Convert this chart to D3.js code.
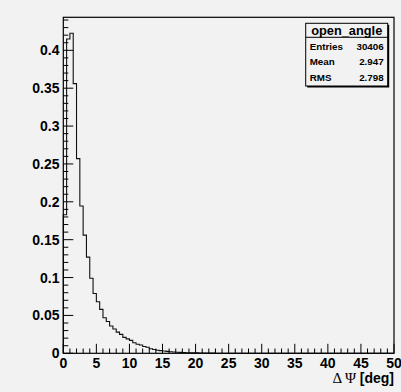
<!DOCTYPE html>
<html>
<head>
<meta charset="utf-8">
<script src="https://cdn.jsdelivr.net/npm/d3@7"></script>
<style>
  body { margin: 0; background: #f2f2f2; }
  svg { display: block; }
  text { font-family: "Liberation Sans", Arial, sans-serif; font-weight: bold; fill: #000; }
</style>
</head>
<body>
<div id="chart-area"></div>
<script>
// Histogram bins (0.5 deg wide)
const binWidth = 0.5;
const binValues = [
  0.183, 0.415, 0.4225, 0.356, 0.257, 0.1945, 0.156, 0.127, 0.099, 0.079,
  0.068, 0.058, 0.047, 0.042, 0.036, 0.032, 0.028, 0.025, 0.021, 0.019,
  0.017, 0.014, 0.012, 0.011, 0.009, 0.008, 0.006, 0.005, 0.004, 0.0035,
  0.003, 0.0025, 0.002, 0.0017, 0.0014, 0.0012, 0.001, 0.0008, 0.0007, 0.0006,
  0.0005, 0.0004, 0.0003, 0.0003, 0.0002, 0.0002, 0.0001, 0.0001, 0.0001, 0.0
];

// Axis ticks
const xTicks = [0, 5, 10, 15, 20, 25, 30, 35, 40, 45, 50];
const yTicks = [0, 0.05, 0.1, 0.15, 0.2, 0.25, 0.3, 0.35, 0.4];
const yTickLabels = ['0', '0.05', '0.1', '0.15', '0.2', '0.25', '0.3', '0.35', '0.4'];

// Stats box
const statsTitle = 'open_angle';
const statsNames = ['Entries', 'Mean', 'RMS'];
const statsValues = ['30406', '2.947', '2.798'];

const W = 401, H = 392;
const frame = { left: 63.3, right: 394, top: 17.3, bottom: 353.3 };

const svg = d3.select('#chart-area')
    .append('svg')
    .attr('width', W)
    .attr('height', H);

svg.append('rect')
    .attr('width', W).attr('height', H)
    .attr('fill', '#f2f2f2');

// Scales
const x = d3.scaleLinear()
    .domain([0, 50])
    .range([frame.left, frame.right]);

const y = d3.scaleLinear()
    .domain([0, 0.4436])
    .range([frame.bottom, frame.top]);

// Histogram as step line
const pts = [[0, 0]];
binValues.forEach((v, i) => {
    pts.push([i * binWidth, v]);
    pts.push([(i + 1) * binWidth, v]);
});
pts.push([binValues.length * binWidth, 0]);
pts.push([50, 0]);

const line = d3.line()
    .x((d) => x(d[0]))
    .y((d) => y(d[1]));

svg.append('path')
    .datum(pts)
    .attr('d', line)
    .attr('fill', 'none')
    .attr('stroke', '#111')
    .attr('stroke-width', 1.1);

// Frame
svg.append('rect')
    .attr('x', frame.left)
    .attr('y', frame.top)
    .attr('width', frame.right - frame.left)
    .attr('height', frame.bottom - frame.top)
    .attr('fill', 'none')
    .attr('stroke', '#000')
    .attr('stroke-width', 1.2);

// X axis: major ticks every 5, minor every 1
const xMinor = d3.range(0, 51, 1);
svg.append('g')
    .selectAll('line')
    .data(xMinor)
    .enter()
    .append('line')
    .attr('x1', (d) => x(d))
    .attr('x2', (d) => x(d))
    .attr('y1', frame.bottom)
    .attr('y2', (d) => frame.bottom - (d % 5 === 0 ? 9.5 : 4.8))
    .attr('stroke', '#000')
    .attr('stroke-width', 1);

svg.append('g')
    .selectAll('text')
    .data(xTicks)
    .enter()
    .append('text')
    .attr('x', (d) => x(d))
    .attr('y', 367.5)
    .attr('text-anchor', 'middle')
    .attr('font-size', '14px')
    .text((d) => d);

// Y axis: major ticks every 0.05, minor every 0.01
const yMinor = d3.range(0, 45).map((i) => i * 0.01);
svg.append('g')
    .selectAll('line')
    .data(yMinor)
    .enter()
    .append('line')
    .attr('x1', frame.left)
    .attr('x2', (d, i) => frame.left + (i % 5 === 0 ? 10 : 5))
    .attr('y1', (d) => y(d))
    .attr('y2', (d) => y(d))
    .attr('stroke', '#000')
    .attr('stroke-width', 1);

svg.append('g')
    .selectAll('text')
    .data(yTicks)
    .enter()
    .append('text')
    .attr('x', 59.5)
    .attr('y', (d) => y(d) + 5)
    .attr('text-anchor', 'end')
    .attr('font-size', '14px')
    .text((d, i) => yTickLabels[i]);

// X axis title
const xt = svg.append('text')
    .attr('x', frame.right)
    .attr('y', 382.5)
    .attr('text-anchor', 'end')
    .attr('font-size', '14px');
xt.append('tspan')
    .attr('font-family', '"Liberation Serif", serif')
    .attr('font-weight', 'normal')
    .attr('font-size', '15px')
    .text('\u0394 \u03A8 ');
xt.append('tspan').text('[deg]');

// Stats box
const box = { x: 305.7, y: 23.3, w: 82, h: 62.7 };
svg.append('rect')
    .attr('x', box.x + 1.5).attr('y', box.y + 1.5)
    .attr('width', box.w).attr('height', box.h)
    .attr('fill', '#000');
svg.append('rect')
    .attr('x', box.x).attr('y', box.y)
    .attr('width', box.w).attr('height', box.h)
    .attr('fill', '#f2f2f2')
    .attr('stroke', '#000')
    .attr('stroke-width', 1);
svg.append('line')
    .attr('x1', box.x).attr('x2', box.x + box.w)
    .attr('y1', 37.3).attr('y2', 37.3)
    .attr('stroke', '#000');
svg.append('text')
    .attr('x', box.x + box.w / 2)
    .attr('y', 34.8)
    .attr('text-anchor', 'middle')
    .attr('font-size', '12.8px')
    .text(statsTitle);

const rowY = [50, 65.2, 81];
statsNames.forEach((n, i) => {
    svg.append('text')
        .attr('x', box.x + 4)
        .attr('y', rowY[i])
        .attr('font-size', '9.8px')
        .text(n);
    svg.append('text')
        .attr('x', box.x + box.w - 4)
        .attr('y', rowY[i])
        .attr('text-anchor', 'end')
        .attr('font-size', '9.8px')
        .text(statsValues[i]);
});
</script>
</body>
</html>
